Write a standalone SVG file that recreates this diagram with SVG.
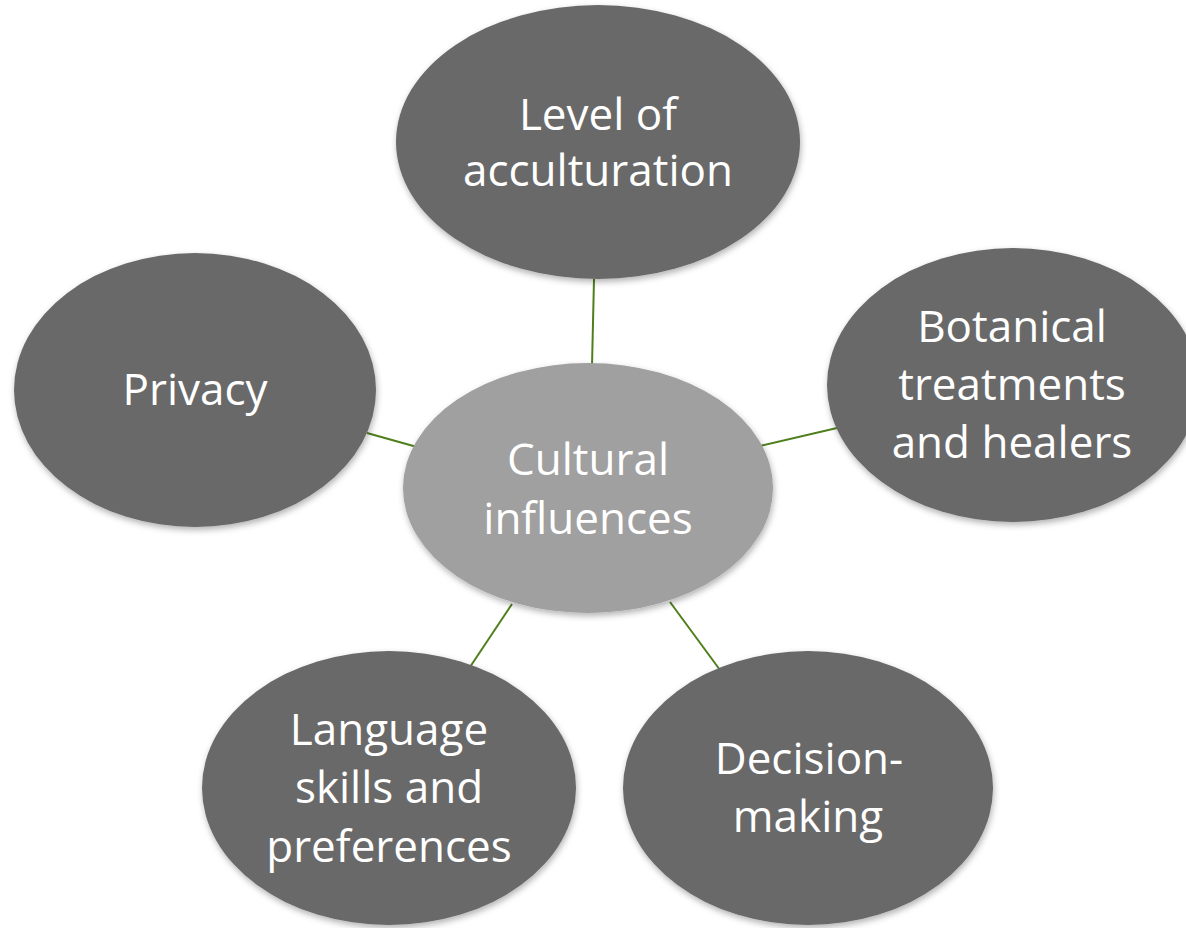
<svg xmlns="http://www.w3.org/2000/svg" width="1186" height="928" viewBox="0 0 1186 928">
<defs>
<filter id="sh" x="-10%" y="-10%" width="120%" height="125%">
<feDropShadow dx="1" dy="3" stdDeviation="3" flood-color="#000" flood-opacity="0.3"/>
</filter>
</defs>
<style>
.dk{fill:#696969;filter:url(#sh)}
.lt{fill:#a0a0a0;filter:url(#sh)}
.t{font-family:"Open Sans","Liberation Sans",Arial,sans-serif;font-size:44px;fill:#ffffff;text-anchor:middle}
.c{stroke:#4f7f1c;stroke-width:2;fill:none}
</style>
<rect width="1186" height="928" fill="#ffffff"/>
<g id="connectors">
<line class="c" x1="594" y1="279" x2="592" y2="366"/>
<line class="c" x1="760" y1="446" x2="837" y2="428"/>
<line class="c" x1="367" y1="433" x2="417" y2="447"/>
<line class="c" x1="512" y1="604" x2="470" y2="667"/>
<line class="c" x1="670" y1="602" x2="720" y2="670"/>
</g>
<g id="top">
<ellipse class="dk" cx="598" cy="142" rx="202" ry="137"/>
<text class="t" x="598" y="130">Level of</text>
<text class="t" x="598" y="186">acculturation</text>
</g>
<g id="right">
<ellipse class="dk" cx="1013" cy="385" rx="186" ry="137"/>
<text class="t" x="1012" y="342">Botanical</text>
<text class="t" x="1012" y="400">treatments</text>
<text class="t" x="1012" y="458">and healers</text>
</g>
<g id="left">
<ellipse class="dk" cx="195" cy="390" rx="181" ry="137"/>
<text class="t" x="195" y="405">Privacy</text>
</g>
<g id="bottom-left">
<ellipse class="dk" cx="389" cy="788" rx="187" ry="137"/>
<text class="t" x="389" y="745">Language</text>
<text class="t" x="389" y="803">skills and</text>
<text class="t" x="389" y="862">preferences</text>
</g>
<g id="bottom-right">
<ellipse class="dk" cx="808" cy="788" rx="185" ry="137"/>
<text class="t" x="809" y="774">Decision-</text>
<text class="t" x="808" y="832">making</text>
</g>
<g id="center">
<ellipse class="lt" cx="588" cy="488" rx="185" ry="125"/>
<text class="t" x="588" y="475">Cultural</text>
<text class="t" x="588" y="534">influences</text>
</g>
</svg>
